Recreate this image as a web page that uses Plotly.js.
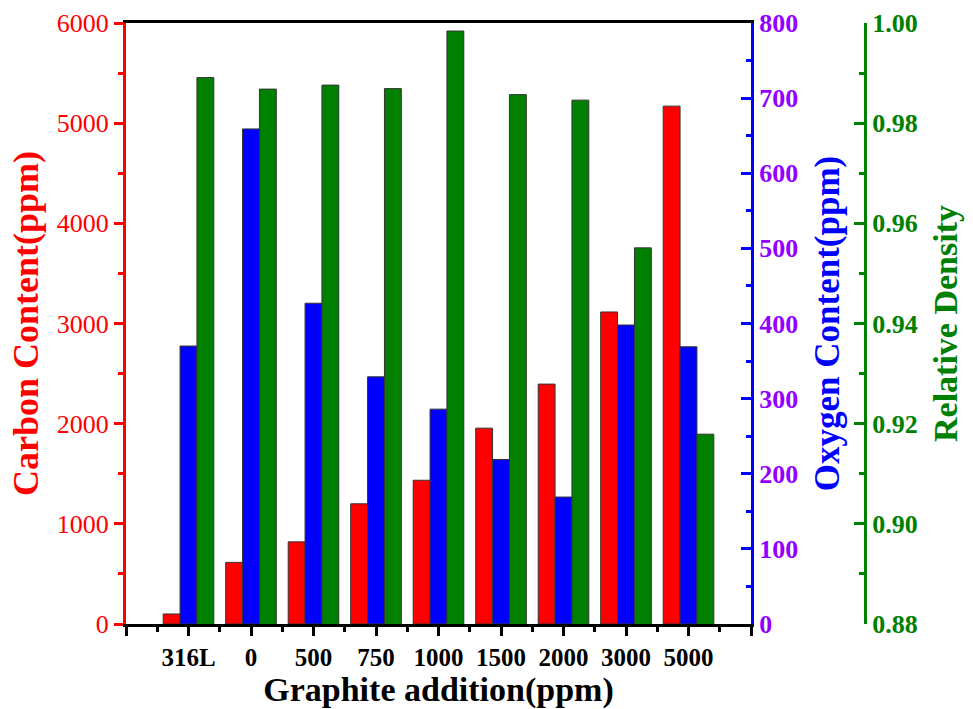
<!DOCTYPE html>
<html>
<head>
<meta charset="utf-8">
<script src="https://cdn.plot.ly/plotly-3.0.1.min.js"></script>
<style>html,body{margin:0;padding:0;background:#fff;}#chart{width:973px;height:709px;}</style>
</head>
<body>
<div id="chart"></div>
<script>
// ---- data ----
const categories = ["316L", "0", "500", "750", "1000", "1500", "2000", "3000", "5000"];
const carbonPpm = [100, 615, 820, 1200, 1435, 1955, 2395, 3115, 5170];
const oxygenPpm = [370, 659, 427, 329, 286, 219, 169, 398, 369];
const relDensity = [0.9891, 0.9868, 0.9876, 0.9869, 0.9984, 0.9857, 0.9846, 0.9551, 0.9179];

const xIdx = categories.map((c, i) => i);
const FONT = "Liberation Serif, Times New Roman, serif";
const BW = 0.27;

function barTrace(y, color, axis, offset, name) {
  return {
    type: 'bar', x: xIdx, y: y, yaxis: axis, name: name,
    width: BW, offset: offset,
    marker: {color: color, line: {color: '#333333', width: 1}},
    hoverinfo: 'y'
  };
}

const traces = [
  barTrace(carbonPpm, '#FF0000', 'y', -1.5 * BW, 'Carbon'),
  barTrace(oxygenPpm, '#0000FF', 'y2', -0.5 * BW, 'Oxygen'),
  barTrace(relDensity, '#008000', 'y3', 0.5 * BW, 'Relative Density')
];

const plotW = 973 - 126 - 93;
const xEnd = 625 / plotW;

const layout = {
  width: 973, height: 709,
  margin: {l: 126, r: 93, t: 23, b: 85},
  paper_bgcolor: '#fff', plot_bgcolor: '#fff',
  showlegend: false,
  barmode: 'overlay',
  font: {family: FONT, color: '#000'},
  xaxis: {
    domain: [0, xEnd],
    range: [-1, 9],
    tickmode: 'array',
    tickvals: [-1].concat(xIdx, [9]),
    ticktext: [''].concat(categories, ['']),
    ticks: 'outside', ticklen: 9, tickwidth: 3, tickcolor: '#000',
    minor: {tickmode: 'linear', tick0: -0.5, dtick: 1, ticks: 'outside', ticklen: 5, tickwidth: 3, tickcolor: '#000'},
    showline: true, linecolor: '#000', linewidth: 3, mirror: true,
    showgrid: false, zeroline: false,
    tickfont: {family: FONT, size: 25, color: '#000', weight: 'bold'},
    title: {text: 'Graphite addition(ppm)', font: {family: FONT, size: 34, color: '#000', weight: 'bold'}, standoff: 4}
  },
  yaxis: {
    range: [0, 6000], dtick: 1000,
    ticks: 'outside', ticklen: 9, tickwidth: 3, tickcolor: '#FF0000',
    minor: {dtick: 500, ticks: 'outside', ticklen: 5, tickwidth: 3, tickcolor: '#FF0000'},
    showline: true, linecolor: '#FF0000', linewidth: 3,
    showgrid: false, zeroline: false,
    tickfont: {family: FONT, size: 26, color: '#FF0000'},
    title: {text: 'Carbon Content(ppm)', font: {family: FONT, size: 36, color: '#FF0000', weight: 'bold'}, standoff: 8}
  },
  yaxis2: {
    overlaying: 'y', side: 'right', anchor: 'x',
    range: [0, 800], dtick: 100,
    ticks: 'inside', ticklen: 10, tickwidth: 3, tickcolor: '#0000FF',
    minor: {dtick: 50, ticks: 'inside', ticklen: 5, tickwidth: 3, tickcolor: '#0000FF'},
    showline: true, linecolor: '#0000FF', linewidth: 3,
    showgrid: false, zeroline: false,
    tickfont: {family: FONT, size: 26, color: '#9400FF', weight: 'bold'},
    title: {text: 'Oxygen Content(ppm)', font: {family: FONT, size: 35, color: '#0000FF', weight: 'bold'}, standoff: 18}
  },
  yaxis3: {
    overlaying: 'y', side: 'right', anchor: 'free', position: (865 - 126) / plotW,
    range: [0.88, 1.00], dtick: 0.02, tickformat: '.2f',
    ticks: 'inside', ticklen: 10, tickwidth: 3, tickcolor: '#008000',
    minor: {dtick: 0.01, ticks: 'inside', ticklen: 5, tickwidth: 3, tickcolor: '#008000'},
    showline: true, linecolor: '#008000', linewidth: 3,
    showgrid: false, zeroline: false,
    tickfont: {family: FONT, size: 26, color: '#008000', weight: 'bold'},
    title: {text: 'Relative Density', font: {family: FONT, size: 34, color: '#008000', weight: 'bold'}, standoff: 16}
  }
};

Plotly.newPlot('chart', traces, layout, {displayModeBar: false, staticPlot: true});
</script>
</body>
</html>
